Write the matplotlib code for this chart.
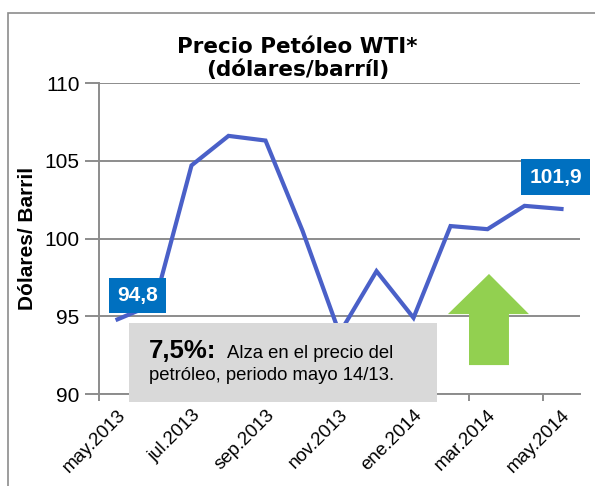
import numpy as np
import matplotlib.pyplot as plt
from matplotlib.patches import Rectangle, Polygon

# Datos: precio WTI promedio mensual (US$/barril)
meses = ["may.2013", "jun.2013", "jul.2013", "ago.2013", "sep.2013", "oct.2013", "nov.2013",
         "dic.2013", "ene.2014", "feb.2014", "mar.2014", "abr.2014", "may.2014"]
precio = [94.8, 95.8, 104.7, 106.6, 106.3, 100.5, 93.9, 97.9, 94.9, 100.8, 100.6, 102.1, 101.9]
yticks = [90, 95, 100, 105, 110]

grid_col = "#8C8C8C"
line_col = "#4A60C8"
label_col = "#0070C0"
arial = "Liberation Sans"

fig = plt.figure(figsize=(5.95, 4.86), dpi=100)
ax = fig.add_axes([0.1664, 0.1893, 0.8084, 0.6399])

x = np.arange(len(meses))
ax.plot(x, precio, color=line_col, lw=3.0, solid_joinstyle="miter", zorder=3)

ax.set_xlim(-0.5, len(meses) - 0.5)
ax.set_ylim(90, 110)
ax.set_yticks(yticks)
ax.set_yticklabels([str(v) for v in yticks], fontname=arial, fontsize=15)
ax.yaxis.grid(True, color=grid_col, lw=1.4)
ax.set_axisbelow(True)

# etiquetas cada dos meses, marcas entre categorias
ax.set_xticks(x[::2])
ax.set_xticklabels(meses[::2], rotation=45, ha="right", va="top", rotation_mode="anchor",
                   fontname=arial, fontsize=13.5)
ax.set_xticks(np.arange(-0.5, len(meses) - 1, 2), minor=True)
ax.tick_params(axis="x", which="major", length=0, pad=9)
ax.tick_params(axis="x", which="minor", length=5, color=grid_col, width=1.4)
ax.tick_params(axis="y", length=10, color=grid_col, width=1.4, pad=4)

for s in ["top", "right"]:
    ax.spines[s].set_visible(False)
for s in ["left", "bottom"]:
    ax.spines[s].set_color(grid_col)
    ax.spines[s].set_linewidth(1.4)

ax.set_ylabel("Dólares/ Barril", fontweight="bold", fontname=arial, fontsize=15)
ax.yaxis.set_label_coords(-0.128, 0.5)

fig.text(0.5, 0.88, "Precio Petóleo WTI*\n(dólares/barríl)", ha="center", va="center",
         fontweight="bold", fontsize=15.5, linespacing=1.15)

# etiquetas de valor
for xv, yv, txt in [(0.54, 96.33, "94,8"), (11.84, 103.95, "101,9")]:
    ax.text(xv, yv, txt, ha="center", va="center", color="white", fontweight="bold",
            fontname=arial, fontsize=15,
            bbox=dict(boxstyle="square,pad=0.4", fc=label_col, ec="none"), zorder=5)

# recuadro gris con comentario
ax.add_patch(Rectangle((0.31, 89.49), 8.33, 5.08, fc="#D9D9D9", ec="none", zorder=4, clip_on=False))
ax.text(0.85, 92.32, "7,5%:", fontweight="bold", fontname=arial, fontsize=18.5,
        va="baseline", zorder=6)
ax.text(2.96, 92.32, "Alza en el precio del", fontname=arial, fontsize=13.3,
        va="baseline", zorder=6)
ax.text(0.85, 90.9, "petróleo, periodo mayo 14/13.", fontname=arial, fontsize=13.3,
        va="baseline", zorder=6)

# flecha verde
ax.add_patch(Polygon([(8.93, 95.14), (10.04, 97.72), (11.12, 95.14), (10.58, 95.14),
                      (10.58, 91.86), (9.5, 91.86), (9.5, 95.14)],
                     closed=True, fc="#92D050", ec="none", zorder=4))

# marco exterior
fig.add_artist(Rectangle((8 / 595, -0.1), 1.2, 1.1 - 13 / 486, transform=fig.transFigure,
                         fill=False, ec="#8C8C8C", lw=1.2))

fig.savefig("out.png", dpi=100)
